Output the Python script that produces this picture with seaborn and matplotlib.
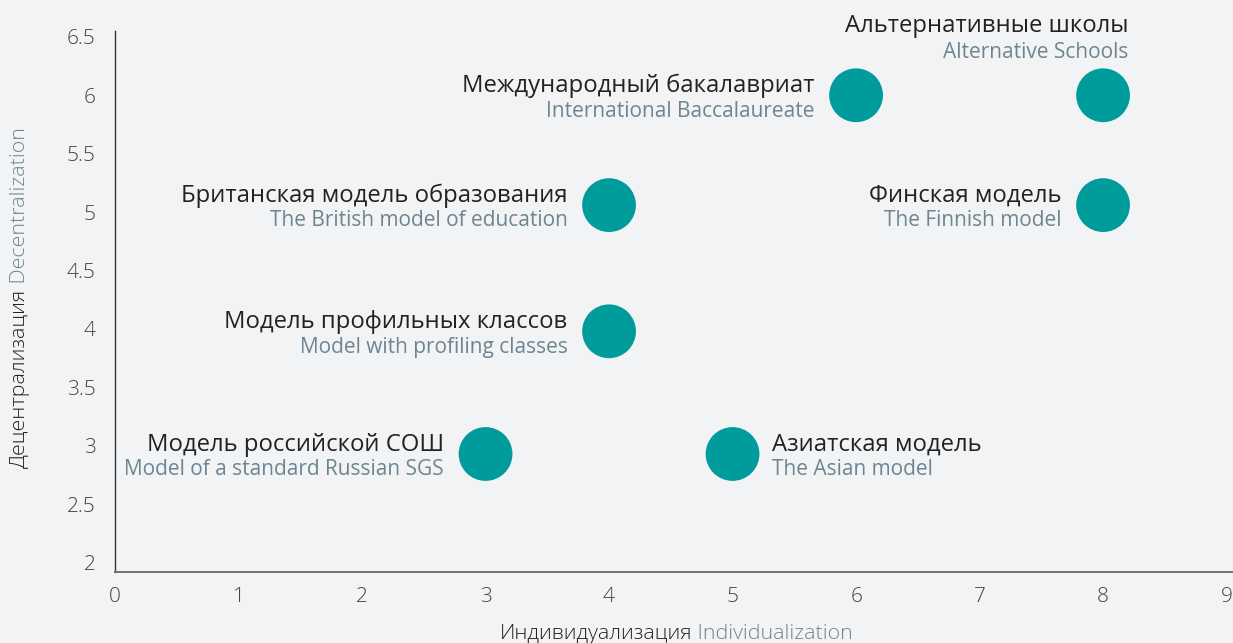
import matplotlib
matplotlib.use("Agg")
import matplotlib.pyplot as plt
import seaborn as sns
import pandas as pd

# Data
labels_ru = ["Модель российской СОШ", "Азиатская модель", "Модель профильных классов",
             "Британская модель образования", "Международный бакалавриат",
             "Альтернативные школы", "Финская модель"]
labels_en = ["Model of a standard Russian SGS", "The Asian model", "Model with profiling classes",
             "The British model of education", "International Baccalaureate",
             "Alternative Schools", "The Finnish model"]
individualization = [3, 5, 4, 4, 6, 8, 8]
decentralization = [2.93, 2.93, 3.98, 5.06, 6.0, 6.0, 5.06]
label_side = ["left", "right", "left", "left", "left", "top", "left"]
x_ticks = [0, 1, 2, 3, 4, 5, 6, 7, 8, 9]
y_ticks = [2, 2.5, 3, 3.5, 4, 4.5, 5, 5.5, 6, 6.5]
y_tick_labels = ["2", "2.5", "3", "3.5", "4", "4.5", "5", "5.5", "6", "6.5"]

BG = "#f2f3f5"
TEAL = "#009c9c"
DARK = "#222222"
GREY = "#6e8591"

sns.set_theme(style="white")
plt.rcParams["font.family"] = ["Open Sans", "DejaVu Sans"]

df = pd.DataFrame({"x": individualization, "y": decentralization})

fig = plt.figure(figsize=(12.33, 6.43), dpi=100, facecolor=BG)
ax = fig.add_axes([0.0933, 0.1104, 0.9065, 0.8414])
ax.set_facecolor(BG)

sns.scatterplot(data=df, x="x", y="y", s=1500, color=TEAL, edgecolor="none", ax=ax, zorder=3, clip_on=False)

ax.set_xlim(0, 9.05)
ax.set_ylim(1.92, 6.55)
ax.set_xticks(x_ticks)
ax.set_xticklabels([str(t) for t in x_ticks])
ax.set_yticks(y_ticks)
ax.set_yticklabels(y_tick_labels)
ax.tick_params(axis="both", length=0, labelsize=15, labelcolor="#444444")
ax.tick_params(axis="x", pad=11)
ax.tick_params(axis="y", pad=14)
for lab in ax.get_xticklabels() + ax.get_yticklabels():
    lab.set_fontweight("light")

for side in ["top", "right"]:
    ax.spines[side].set_visible(False)
ax.spines["left"].set_color("#333333")
ax.spines["left"].set_linewidth(1.0)
ax.spines["bottom"].set_color("#666666")
ax.spines["bottom"].set_linewidth(1.3)

ax.set_xlabel("")
ax.set_ylabel("")

RU_SIZE = 17.2
EN_SIZE = 15.0
for x, y, ru, en, side in zip(individualization, decentralization, labels_ru, labels_en, label_side):
    if side == "left":
        dx, ha, ry, ey = -30, "right", 2.2, -15.3
    elif side == "right":
        dx, ha, ry, ey = 28.6, "left", 2.2, -15.3
    else:
        dx, ha, ry, ey = 18, "right", 45.4, 26.6
    ax.annotate(ru, (x, y), xytext=(dx, ry), textcoords="offset points", ha=ha, va="baseline",
                fontsize=RU_SIZE, color=DARK, fontweight="normal")
    ax.annotate(en, (x, y), xytext=(dx, ey), textcoords="offset points", ha=ha, va="baseline",
                fontsize=EN_SIZE, color=GREY, fontweight="normal")

# Axis labels (two-coloured)
t1 = fig.text(0.4055, 0.006, "Индивидуализация", ha="left", va="baseline", fontsize=15.4,
              color=DARK, fontweight="light")
ax.annotate(" Individualization", xy=(1, 0), xycoords=t1, va="bottom", ha="left",
            fontsize=15.4, color=GREY, fontweight="light", annotation_clip=False)

t2 = fig.text(0.0165, 0.272, "Децентрализация", ha="center", va="bottom", rotation=90,
              fontsize=15.4, color=DARK, fontweight="light")
ax.annotate(" Decentralization", xy=(0, 1), xycoords=t2, va="bottom", ha="left", rotation=90,
            fontsize=15.4, color=GREY, fontweight="light", annotation_clip=False)

fig.savefig("out.png", dpi=100, facecolor=BG)
